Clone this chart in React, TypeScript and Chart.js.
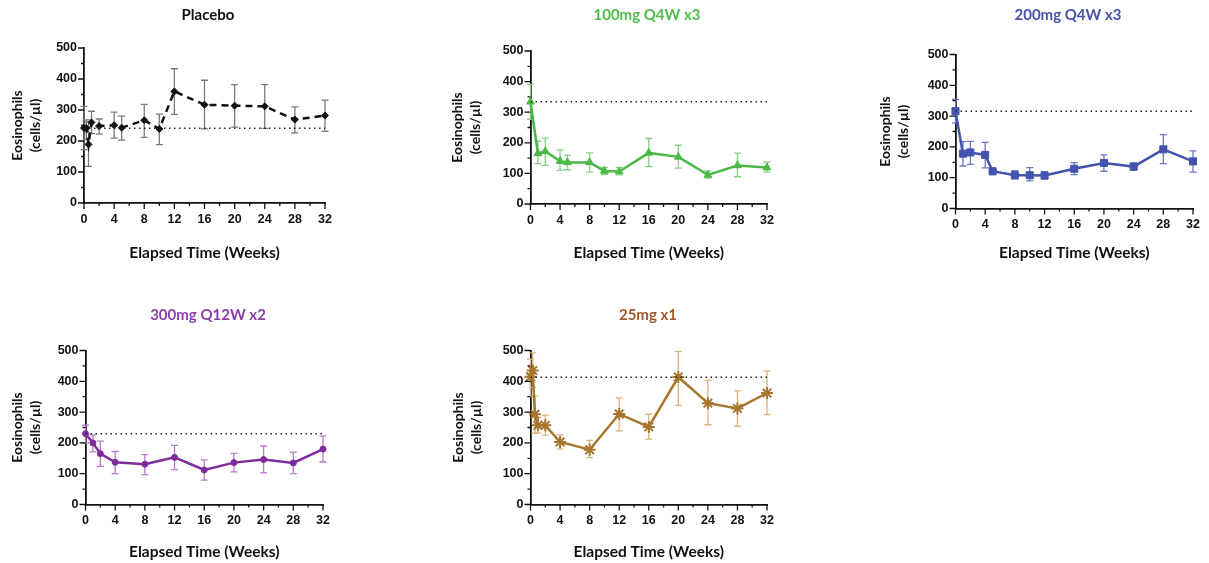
import React, { useEffect, useRef } from "react";
import { Chart, registerables } from "chart.js";

Chart.register(...registerables);

// ---------------- data ----------------
const panelTitles = ["Placebo", "100mg Q4W x3", "200mg Q4W x3", "300mg Q12W x2", "25mg x1"];
const xAxisTitle = "Elapsed Time (Weeks)";
const yAxisTitle = ["Eosinophils", "(cells/µl)"];

const xMajorTicks = [0, 4, 8, 12, 16, 20, 24, 28, 32];
const xMinorTicks = [2, 6, 10, 14, 18, 22, 26, 30];
const yMajorTicks = [0, 100, 200, 300, 400, 500];
const yMinorTicks = [50, 150, 250, 350, 450];

const placeboWeeks = [0, 0.3, 0.6, 1, 2, 4, 5, 8, 10, 12, 16, 20, 24, 28, 32];
const placeboMean = [242, 242, 189, 260, 248, 251, 243, 267, 239, 360, 317, 314, 312, 269, 282];
const placeboLow = [172, 205, 118, 224, 222, 209, 203, 212, 188, 286, 239, 245, 241, 226, 231];
const placeboHigh = [312, 268, 262, 296, 271, 293, 280, 318, 287, 433, 396, 382, 382, 310, 332];
const placeboBaseline = 241;

const mg100Weeks = [0, 1, 2, 4, 5, 8, 10, 12, 16, 20, 24, 28, 32];
const mg100Mean = [334, 165, 172, 140, 136, 136, 108, 106, 167, 154, 95, 126, 119];
const mg100Low = [277, 132, 126, 110, 112, 104, 96, 95, 122, 117, 85, 89, 104];
const mg100High = [391, 205, 215, 177, 160, 167, 120, 120, 214, 192, 108, 166, 137];
const mg100Baseline = 334;

const mg200Weeks = [0, 1, 2, 4, 5, 8, 10, 12, 16, 20, 24, 28, 32];
const mg200Mean = [316, 178, 182, 174, 121, 108, 108, 107, 129, 148, 136, 192, 153];
const mg200Low = [278, 138, 143, 132, 110, 96, 90, 96, 110, 121, 124, 146, 118];
const mg200High = [354, 217, 218, 215, 131, 123, 133, 120, 149, 174, 148, 240, 187];
const mg200Baseline = 316;

const mg300Weeks = [0, 1, 2, 4, 8, 12, 16, 20, 24, 28, 32];
const mg300Mean = [230, 200, 165, 137, 131, 153, 112, 136, 146, 135, 180];
const mg300Low = [200, 171, 124, 100, 97, 113, 79, 106, 103, 100, 138];
const mg300High = [258, 226, 206, 172, 162, 192, 145, 166, 190, 170, 222];
const mg300Baseline = 230;

const mg25Weeks = [0, 0.3, 0.6, 1, 2, 4, 8, 12, 16, 20, 24, 28, 32];
const mg25Mean = [415, 435, 293, 257, 257, 203, 178, 294, 252, 414, 329, 312, 362];
const mg25Low = [350, 380, 232, 232, 225, 180, 152, 239, 212, 322, 259, 254, 292];
const mg25High = [472, 492, 352, 283, 290, 227, 208, 346, 293, 497, 403, 369, 433];
const mg25Baseline = 413;

// ---------------- panel setup ----------------
type PanelCfg = {
  title: string;
  weeks: number[];
  mean: number[];
  low: number[];
  high: number[];
  baseline: number;
  titleColor: string;
  lineColor: string;
  barColor: string;
  pointStyle: any;
  radius: number;
  dash: number[];
  left: number;
  top: number;
  width: number;
  height: number;
  yw: number;
  xh: number;
  spacer: number;
  tpT: number;
  tpB: number;
};

const panels: PanelCfg[] = [
  {
    title: panelTitles[0], weeks: placeboWeeks, mean: placeboMean, low: placeboLow, high: placeboHigh,
    baseline: placeboBaseline, titleColor: "#111111", lineColor: "#111111", barColor: "#7a7a7a",
    pointStyle: "rectRot", radius: 3.5, dash: [7, 5],
    left: 8, top: 0, width: 400, height: 263, yw: 76, xh: 60, spacer: 83, tpT: 7, tpB: 25,
  },
  {
    title: panelTitles[1], weeks: mg100Weeks, mean: mg100Mean, low: mg100Low, high: mg100High,
    baseline: mg100Baseline, titleColor: "#4dbb4a", lineColor: "#4cb848", barColor: "#86cf80",
    pointStyle: "triangle", radius: 4.5, dash: [],
    left: 448, top: 0, width: 398, height: 263, yw: 82.5, xh: 59, spacer: 79, tpT: 7, tpB: 28,
  },
  {
    title: panelTitles[2], weeks: mg200Weeks, mean: mg200Mean, low: mg200Low, high: mg200High,
    baseline: mg200Baseline, titleColor: "#4552a8", lineColor: "#4453ad", barColor: "#6b78c2",
    pointStyle: "rect", radius: 5, dash: [],
    left: 876, top: 0, width: 384, height: 263, yw: 79.5, xh: 54.5, spacer: 67, tpT: 7, tpB: 31.5,
  },
  {
    title: panelTitles[3], weeks: mg300Weeks, mean: mg300Mean, low: mg300Low, high: mg300High,
    baseline: mg300Baseline, titleColor: "#8a3fa8", lineColor: "#7e2c9c", barColor: "#b77bcb",
    pointStyle: "circle", radius: 3, dash: [],
    left: 8, top: 290, width: 400, height: 272, yw: 77.5, xh: 57.5, spacer: 85, tpT: 17, tpB: 27.5,
  },
  {
    title: panelTitles[4], weeks: mg25Weeks, mean: mg25Mean, low: mg25Low, high: mg25High,
    baseline: mg25Baseline, titleColor: "#a4582a", lineColor: "#a7752c", barColor: "#d9b47e",
    pointStyle: "star", radius: 6, dash: [],
    left: 449, top: 290, width: 398, height: 272, yw: 81.5, xh: 57.5, spacer: 80, tpT: 17, tpB: 27.5,
  },
];

const tickFont = { family: "'Liberation Sans', Arial, sans-serif", size: 12.5, weight: "bold" as const };
const labelFamily = "Lato, 'Open Sans', sans-serif";

function Panel({ cfg }: { cfg: PanelCfg }) {
  const ref = useRef<HTMLCanvasElement>(null);

  useEffect(() => {
    if (!ref.current) return;

    const errorBars = {
      id: "errorBars",
      beforeDatasetsDraw(chart: any) {
        const xs = chart.scales.x;
        const ys = chart.scales.y;
        const ctx = chart.ctx;
        ctx.save();
        ctx.strokeStyle = cfg.barColor;
        ctx.lineWidth = 1.3;
        for (let i = 0; i < cfg.weeks.length; i++) {
          const px = xs.getPixelForValue(cfg.weeks[i]);
          const pl = ys.getPixelForValue(cfg.low[i]);
          const ph = ys.getPixelForValue(cfg.high[i]);
          ctx.beginPath();
          ctx.moveTo(px, pl);
          ctx.lineTo(px, ph);
          ctx.moveTo(px - 3.5, pl);
          ctx.lineTo(px + 3.5, pl);
          ctx.moveTo(px - 3.5, ph);
          ctx.lineTo(px + 3.5, ph);
          ctx.stroke();
        }
        ctx.restore();
      },
    };

    const tickMarks = {
      id: "tickMarks",
      afterDraw(chart: any) {
        const xs = chart.scales.x;
        const ys = chart.scales.y;
        const ca = chart.chartArea;
        const ctx = chart.ctx;
        ctx.save();
        ctx.strokeStyle = "#111111";
        ctx.lineWidth = 1.3;
        ctx.beginPath();
        yMajorTicks.forEach((v) => {
          const p = ys.getPixelForValue(v);
          ctx.moveTo(ca.left - 6, p);
          ctx.lineTo(ca.left, p);
        });
        yMinorTicks.forEach((v) => {
          const p = ys.getPixelForValue(v);
          ctx.moveTo(ca.left - 3, p);
          ctx.lineTo(ca.left, p);
        });
        xMajorTicks.forEach((v) => {
          const p = xs.getPixelForValue(v);
          ctx.moveTo(p, ca.bottom);
          ctx.lineTo(p, ca.bottom + 6);
        });
        xMinorTicks.forEach((v) => {
          const p = xs.getPixelForValue(v);
          ctx.moveTo(p, ca.bottom);
          ctx.lineTo(p, ca.bottom + 3);
        });
        ctx.stroke();
        ctx.restore();
      },
    };

    const chart = new Chart(ref.current, {
      type: "line",
      data: {
        datasets: [
          {
            data: [
              { x: 0, y: cfg.baseline },
              { x: 32, y: cfg.baseline },
            ],
            borderColor: "#222222",
            borderWidth: 1.5,
            borderDash: [1.5, 3.5],
            pointRadius: 0,
            xAxisID: "x",
            yAxisID: "y",
          },
          {
            data: cfg.weeks.map((w, i) => ({ x: w, y: cfg.mean[i] })),
            borderColor: cfg.lineColor,
            backgroundColor: cfg.lineColor,
            borderWidth: 2.5,
            borderDash: cfg.dash,
            pointStyle: cfg.pointStyle,
            pointRadius: cfg.radius,
            pointBackgroundColor: cfg.lineColor,
            pointBorderColor: cfg.lineColor,
            pointBorderWidth: cfg.pointStyle === "star" ? 2 : 1,
            tension: 0,
            clip: false as any,
            xAxisID: "x",
            yAxisID: "y",
          },
        ],
      },
      options: {
        animation: false,
        responsive: false,
        layout: { padding: 0 },
        plugins: {
          legend: { display: false },
          tooltip: { enabled: false },
          title: {
            display: true,
            text: cfg.title,
            color: cfg.titleColor,
            font: { family: labelFamily, size: 15, weight: "bold", lineHeight: "16px" } as any,
            padding: { top: cfg.tpT, bottom: cfg.tpB },
          },
        },
        scales: {
          x: {
            type: "linear",
            position: "bottom",
            min: 0,
            max: 32,
            afterFit: (s: any) => {
              s.height = cfg.xh;
            },
            ticks: {
              stepSize: 4,
              color: "#111111",
              font: tickFont,
              padding: 9,
              maxRotation: 0,
              autoSkip: false,
            },
            grid: { display: false, drawTicks: false },
            border: { display: true, color: "#111111", width: 1.8 },
            title: {
              display: true,
              text: xAxisTitle,
              color: "#111111",
              font: { family: labelFamily, size: 15.5, weight: "bold", lineHeight: "16px" } as any,
              padding: { top: 0, bottom: 2 },
            },
          },
          y: {
            type: "linear",
            position: "left",
            min: 0,
            max: 500,
            afterFit: (s: any) => {
              s.width = cfg.yw;
            },
            ticks: { stepSize: 100, color: "#111111", font: tickFont, padding: 7 },
            grid: { display: false, drawTicks: false },
            border: { display: true, color: "#111111", width: 1.8 },
            title: {
              display: true,
              text: yAxisTitle,
              color: "#111111",
              font: { family: labelFamily, size: 14, weight: "bold", lineHeight: "18px" } as any,
              padding: { top: 0, bottom: 0 },
            },
          },
          spacer: {
            type: "linear",
            position: "right",
            display: true,
            afterFit: (s: any) => {
              s.width = cfg.spacer;
            },
            ticks: { display: false },
            grid: { display: false, drawTicks: false },
            border: { display: false },
          },
        },
      },
      plugins: [errorBars, tickMarks],
    } as any);

    return () => chart.destroy();
  }, [cfg]);

  return (
    <canvas
      ref={ref}
      width={cfg.width}
      height={cfg.height}
      style={{
        position: "absolute",
        left: cfg.left,
        top: cfg.top,
        width: cfg.width,
        height: cfg.height,
      }}
    />
  );
}

export default function App() {
  return (
    <div
      style={{
        position: "fixed",
        left: 0,
        top: 0,
        width: 1209,
        height: 563,
        overflow: "hidden",
        background: "#ffffff",
      }}
    >
      {panels.map((p) => (
        <Panel key={p.title} cfg={p} />
      ))}
    </div>
  );
}
